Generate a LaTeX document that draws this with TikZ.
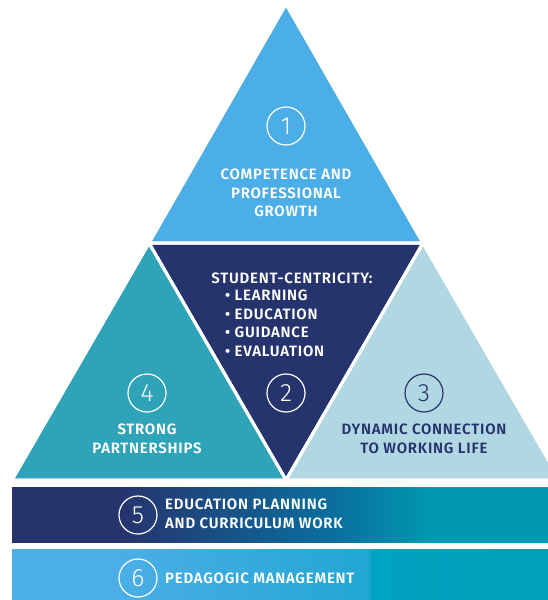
\documentclass[tikz,border=0pt]{standalone}
\usepackage{fontspec}
\setmainfont{Fira Sans}[LetterSpace=5,BoldFont={Fira Sans SemiBold}]
\newfontfamily\numfont{Fira Sans Light}
\usetikzlibrary{positioning}

\definecolor{topblue}{HTML}{4BAEE6}
\definecolor{navy}{HTML}{26346E}
\definecolor{tealtri}{HTML}{2FA3B8}
\definecolor{paleblue}{HTML}{B1D7E2}
\definecolor{midblue}{HTML}{0A6F9E}
\definecolor{barteal}{HTML}{0099B0}
\definecolor{skyteal}{HTML}{22A7D3}
\definecolor{lightteal}{HTML}{00A3C0}

\pgfdeclarehorizontalshading{barfive}{100bp}{color(0bp)=(navy); color(35bp)=(navy); color(55bp)=(midblue); color(64bp)=(barteal); color(100bp)=(barteal)}
\pgfdeclarehorizontalshading{barsix}{100bp}{color(0bp)=(topblue); color(35bp)=(topblue); color(58bp)=(skyteal); color(58.5bp)=(lightteal); color(100bp)=(barteal)}

\begin{document}
\begin{tikzpicture}[x=1pt,y=-1pt,
	tri/.style={draw=white,line width=3pt,line join=miter},
	numcirc/.style={circle,draw=white,line width=1.2pt,minimum size=38pt,inner sep=0pt,text=white,font=\fontsize{25}{25}\numfont},
	lbl/.style={text=white,align=center,inner sep=0pt,font=\fontsize{15}{18.5}\selectfont\bfseries}]
	\useasboundingbox (0,0) rectangle (548,600);
	\clip (0,0) rectangle (548,600);

	% triangles
	\fill[tri,fill=topblue] (286,4) -- (423,243) -- (149,243) -- cycle;
	\fill[tri,fill=navy] (149,243) -- (423,243) -- (286,480) -- cycle;
	\fill[tri,fill=tealtri] (149,243) -- (286,480) -- (12,480) -- cycle;
	\fill[tri,fill=paleblue] (423,243) -- (560,480) -- (286,480) -- cycle;
	\draw[tri] (286,4) -- (423,243) -- (149,243) -- cycle;
	\draw[tri] (149,243) -- (286,480) -- (12,480) -- cycle;
	\draw[tri] (423,243) -- (560,480) -- (286,480) -- cycle;

	% bars
	\shade[shading=barfive] (12,487) rectangle (550,542);
	\shade[shading=barsix] (12,549) rectangle (550,602);

	\node[numcirc] (c1) at (286,126) {1};
	\node[lbl] (t1) at (286,193) {COMPETENCE AND\\PROFESSIONAL\\GROWTH};

	\node[lbl] (t2) at (292,278) {STUDENT-CENTRICITY:};
	\node[lbl,align=left,anchor=north west] (b2) at (225,290) {• LEARNING\\• EDUCATION\\• GUIDANCE\\• EVALUATION};
	\node[numcirc] (c2) at (286,393) {2};

	\node[numcirc] (c4) at (147,393) {4};
	\node[lbl] (t4) at (147,439) {STRONG\\PARTNERSHIPS};

	\node[numcirc,draw=navy,text=navy] (c3) at (424,393) {3};
	\node[lbl,text=navy] (t3) at (424,439) {DYNAMIC CONNECTION\\TO WORKING LIFE};

	\node[numcirc] (c5) at (138,515) {5};
	\node[lbl,align=left,anchor=west] (t5) at (165,514) {EDUCATION PLANNING\\AND CURRICULUM WORK};

	\node[numcirc] (c6) at (138,578) {6};
	\node[lbl,anchor=west] (t6) at (165,578) {PEDAGOGIC MANAGEMENT};
\end{tikzpicture}
\end{document}
